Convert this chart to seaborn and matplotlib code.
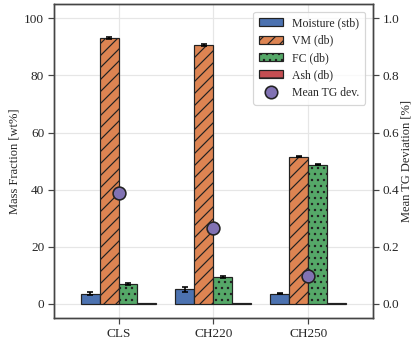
import matplotlib
matplotlib.use("Agg")
import matplotlib.pyplot as plt
import seaborn as sns
import pandas as pd
import numpy as np

categories = ["CLS", "CH220", "CH250"]
components = ["Moisture (stb)", "VM (db)", "FC (db)", "Ash (db)"]
moisture = [3.6, 5.1, 3.6]
vm = [93.1, 90.6, 51.6]
fc = [6.9, 9.4, 48.8]
ash = [0.2, 0.2, 0.2]
moisture_err = [0.5, 0.9, 0.3]
vm_err = [0.4, 0.4, 0.3]
fc_err = [0.4, 0.4, 0.3]
ash_err = [0.0, 0.0, 0.0]
tg_dev = [0.39, 0.265, 0.098]

hatches = ["", "//", "..", "-"]

DPI = 72
K = 100 / 72  # point scale to match 100-dpi look

sns.set_theme(style="whitegrid")
plt.rcParams["font.family"] = ["Liberation Serif", "DejaVu Serif"]
plt.rcParams["hatch.linewidth"] = 1.2

rows = []
for comp, vals, errs in zip(components, [moisture, vm, fc, ash],
                            [moisture_err, vm_err, fc_err, ash_err]):
    for c, v, e in zip(categories, vals, errs):
        rows.append({"Sample": c, "Component": comp, "Value": v, "Err": e})
df = pd.DataFrame(rows)

fig, ax = plt.subplots(figsize=(412 / DPI, 341 / DPI), dpi=DPI)
fig.subplots_adjust(left=0.131, right=0.905, top=0.988, bottom=0.067)

palette = sns.color_palette("deep")[:4]
sns.barplot(data=df, x="Sample", y="Value", hue="Component", order=categories,
            hue_order=components, palette=palette, errorbar=None, saturation=1,
            width=0.8, edgecolor="#222222", linewidth=1.2, ax=ax, legend=False)

# hatches and errorbars
bar_containers = list(ax.containers)[:4]
for i, cont in enumerate(bar_containers):
    comp = components[i]
    sub = df[df.Component == comp].set_index("Sample").loc[categories]
    for bar, err in zip(cont, sub["Err"]):
        bar.set_hatch(hatches[i])
        if err > 0:
            ax.errorbar(bar.get_x() + bar.get_width() / 2, bar.get_height(),
                        yerr=err, color="black", capsize=3, elinewidth=1.6,
                        capthick=1.6, zorder=5)

ax.set_ylim(-5, 105)
ax.set_xlim(-0.68, 2.68)
ax.set_xlabel("")
ax.set_ylabel("Mass Fraction [wt%]", fontsize=9 * K)
ax.tick_params(axis="both", labelsize=9.5 * K, length=4 * K, width=1.2,
               color="#444444", left=True, bottom=True, pad=3 * K)
ax.grid(True, color="#e6e6e6", linewidth=1.2)

purple = sns.color_palette("deep")[4]
ax2 = ax.twinx()
sns.scatterplot(x=[0, 1, 2], y=tg_dev, ax=ax2, s=85 * K * K, color=purple,
                edgecolor="#222222", linewidth=1.6, zorder=10, legend=False)
ax2.set_ylim(-0.05, 1.05)
ax2.set_ylabel("Mean TG Deviation [%]", fontsize=9 * K, labelpad=1 * K)
ax2.grid(False)
ax2.tick_params(axis="y", labelsize=9.5 * K, length=4 * K, width=1.2,
                color="#444444", right=True, pad=3 * K)

for a in (ax, ax2):
    for s in a.spines.values():
        s.set_color("#444444")
        s.set_linewidth(1.4)

from matplotlib.patches import Patch
from matplotlib.lines import Line2D
handles = [Patch(facecolor=palette[i], edgecolor="#222222", hatch=hatches[i],
                 linewidth=1.2, label=components[i]) for i in range(4)]
handles.append(Line2D([], [], marker="o", linestyle="", markersize=9 * K,
                      markerfacecolor=purple, markeredgewidth=1.6,
                      markeredgecolor="#222222", label="Mean TG dev."))
leg = ax2.legend(handles=handles, loc="upper right", fontsize=8.5 * K, frameon=True,
                 handlelength=2.0, borderpad=0.5, labelspacing=0.45,
                 bbox_to_anchor=(0.995, 0.995))
leg.get_frame().set_edgecolor("#cccccc")
leg.get_frame().set_linewidth(1.2)

fig.savefig("out.png", dpi=DPI)
